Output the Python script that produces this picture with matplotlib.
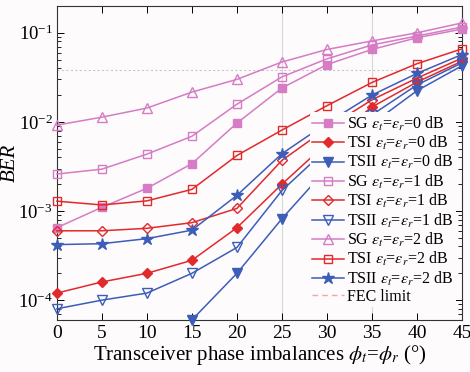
import matplotlib
matplotlib.use("Agg")
import matplotlib.pyplot as plt
from matplotlib.lines import Line2D
from matplotlib.ticker import LogLocator, NullFormatter, FixedLocator

plt.rcParams['font.family'] = ['Liberation Serif', 'DejaVu Serif']
plt.rcParams['mathtext.fontset'] = 'stix'

phase = [0, 5, 10, 15, 20, 25, 30, 35, 40, 45]

sg_0db = [6.5e-4, 1.1e-3, 1.8e-3, 3.4e-3, 9.7e-3, 0.024, 0.044, 0.065, 0.088, 0.110]
tsi_0db = [1.2e-4, 1.6e-4, 2.0e-4, 2.8e-4, 6.5e-4, 2.0e-3, 5.8e-3, 0.0147, 0.028, 0.048]
tsii_0db = [None, None, None, 6.0e-5, 2.0e-4, 8.2e-4, 3.0e-3, 9.5e-3, 0.0224, 0.0427]
sg_1db = [2.6e-3, 2.95e-3, 4.35e-3, 6.9e-3, 0.0158, 0.032, 0.051, 0.073, 0.092, 0.116]
tsi_1db = [6.0e-4, 6.0e-4, 6.4e-4, 7.4e-4, 1.07e-3, 3.7e-3, 8.5e-3, 0.0177, 0.031, 0.052]
tsii_1db = [8.0e-5, 1.0e-4, 1.2e-4, 2.0e-4, 3.9e-4, 1.7e-3, 5.0e-3, 0.012, 0.026, 0.046]
sg_2db = [9.2e-3, 0.0113, 0.0143, 0.0216, 0.030, 0.047, 0.065, 0.081, 0.100, 0.129]
tsi_2db = [1.29e-3, 1.17e-3, 1.3e-3, 1.75e-3, 4.2e-3, 8.1e-3, 0.0152, 0.0277, 0.045, 0.066]
tsii_2db = [4.2e-4, 4.3e-4, 4.9e-4, 6.1e-4, 1.5e-3, 4.4e-3, 9.7e-3, 0.020, 0.035, 0.057]
fec_limit = 3.8e-2

labels = [
    r'SG $\varepsilon_t$=$\varepsilon_r$=0 dB',
    r'TSI $\varepsilon_t$=$\varepsilon_r$=0 dB',
    r'TSII $\varepsilon_t$=$\varepsilon_r$=0 dB',
    r'SG $\varepsilon_t$=$\varepsilon_r$=1 dB',
    r'TSI $\varepsilon_t$=$\varepsilon_r$=1 dB',
    r'TSII $\varepsilon_t$=$\varepsilon_r$=1 dB',
    r'SG $\varepsilon_t$=$\varepsilon_r$=2 dB',
    r'TSI $\varepsilon_t$=$\varepsilon_r$=2 dB',
    r'TSII $\varepsilon_t$=$\varepsilon_r$=2 dB',
]

pink = '#d57cc4'
red = '#e02a2c'
blue = '#3c5db8'

series = [
    (sg_0db, pink, 's', True),
    (tsi_0db, red, 'D', True),
    (tsii_0db, blue, 'v', True),
    (sg_1db, pink, 's', False),
    (tsi_1db, red, 'D', False),
    (tsii_1db, blue, 'v', False),
    (sg_2db, pink, '^', False),
    (tsi_2db, red, 's', False),
    (tsii_2db, blue, '*', True),
]

bg = '#fdfbfc'
fig = plt.figure(figsize=(4.7, 3.72), dpi=100, facecolor=bg)
ax = fig.add_axes([0.121, 0.140, 0.862, 0.844])
ax.set_facecolor(bg)

ax.axvline(25, color='#d8d8d8', lw=0.8, zorder=0)
ax.axvline(35, color='#d8d8d8', lw=0.8, zorder=0)
ax.axhline(fec_limit, color='#c8c8c8', lw=0.8, ls=(0, (2, 2)), zorder=0)

handles = []
for (vals, col, mk, filled), lab in zip(series, labels):
    xs = [x for x, v in zip(phase, vals) if v is not None]
    ys = [v for v in vals if v is not None]
    ms = 6
    if mk == 'D':
        ms = 5
    if mk == '*':
        ms = 9
    if mk == 'v' or mk == '^':
        ms = 7
    h, = ax.plot(xs, ys, color=col, lw=1.1, marker=mk, ms=ms,
                 mfc=col if filled else 'none', mec=col, mew=1.0,
                 label=lab, clip_on=False, zorder=3)
    handles.append(h)

fec_handle = Line2D([], [], color='#f2a3a3', lw=1.0, ls=(0, (4, 3)), label='FEC limit')
handles.append(fec_handle)

ax.set_yscale('log')
ax.set_ylim(6e-5, 0.2)
ax.set_xlim(0, 45)
ax.xaxis.set_major_locator(FixedLocator(phase))
ax.yaxis.set_major_locator(LogLocator(base=10, numticks=10))
ax.yaxis.set_minor_locator(LogLocator(base=10, subs=range(2, 10), numticks=10))
ax.yaxis.set_minor_formatter(NullFormatter())
ax.tick_params(which='both', direction='in', top=True, right=True, labelsize=14)
ax.tick_params(axis='y', which='major', labelsize=13.5, pad=3)
ax.tick_params(which='major', length=5, width=0.7)
ax.tick_params(which='minor', length=3, width=0.6)
for s in ax.spines.values():
    s.set_linewidth(0.8)
    s.set_color('#333333')

ax.set_xlabel(r'Transceiver phase imbalances $\phi_t$=$\phi_r$ (°)', fontsize=15, labelpad=1)
ax.set_ylabel('BER', fontsize=15, style='italic')
ax.yaxis.set_label_coords(-0.092, 0.5)

leg = ax.legend(handles=handles, loc='lower right', bbox_to_anchor=(0.985, 0.04),
                fontsize=11.5, frameon=True, framealpha=1.0, facecolor=bg,
                edgecolor='none', handlelength=2.0, handletextpad=0.2,
                labelspacing=0.08, borderpad=0.15, borderaxespad=0.0)
leg.set_zorder(5)

fig.savefig('out.png', dpi=100, facecolor=bg)
